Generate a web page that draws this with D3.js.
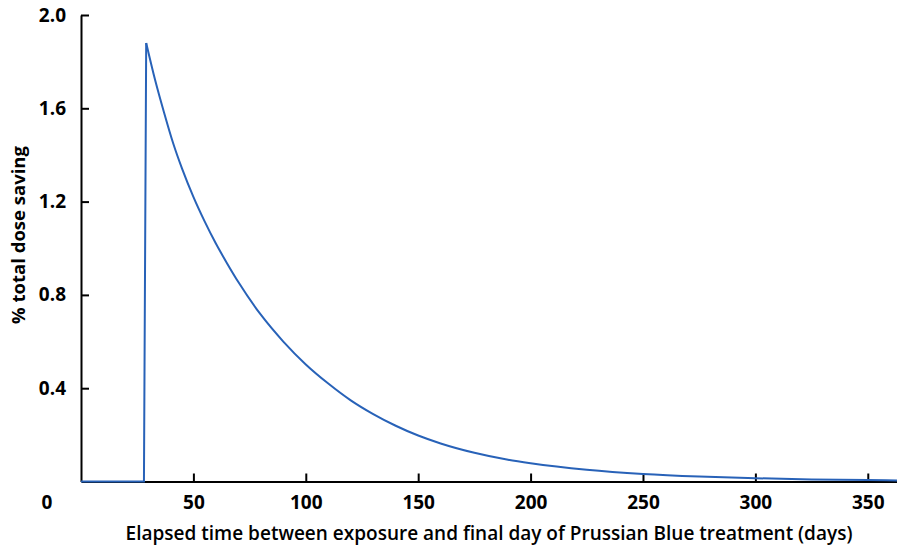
<!DOCTYPE html>
<html lang="en">
<head>
<meta charset="UTF-8">
<title>Dose saving vs elapsed time</title>
<script src="https://d3js.org/d3.v7.min.js"></script>
<style>
  body { margin: 0; background: #fff; }
  text { font-family: "Open Sans", "Noto Sans", sans-serif; fill: #000; }
</style>
</head>
<body>
<div id="chart"></div>
<script>
// days after exposure (x) and % total dose saving (y)
const days = [0, 28, 29, 33, 37, 41, 45, 50, 55, 60, 65, 70, 80, 90, 100, 110, 120, 130, 140, 150,
              160, 175, 190, 200, 225, 250, 275, 300, 325, 350, 363];
const saving = [0, 0, 1.88, 1.72, 1.58, 1.45, 1.34, 1.22, 1.115, 1.02, 0.935, 0.855, 0.715, 0.60,
                0.502, 0.42, 0.348, 0.289, 0.239, 0.197, 0.163, 0.123, 0.093, 0.078, 0.05, 0.032,
                0.021, 0.014, 0.009, 0.006, 0.0045];
const xTicks = [50, 100, 150, 200, 250, 300, 350];
const yTicks = [0.4, 0.8, 1.2, 1.6, 2.0];

const W = 897, H = 549;
const margin = {top: 15, right: 0, bottom: 67.5, left: 81};

const svg = d3.select("#chart").append("svg")
    .attr("width", W)
    .attr("height", H);

const x = d3.scaleLinear().domain([0, 363]).range([margin.left, W - margin.right]);
const y = d3.scaleLinear().domain([0, 2]).range([H - margin.bottom, margin.top]);

const pts = days.map((d, i) => [d, saving[i]]);

// x axis, ticks point inward
const xAxis = svg.append("g")
    .attr("transform", `translate(0,${y(0)})`)
    .call(d3.axisBottom(x).tickValues(xTicks).tickSize(-8).tickSizeOuter(0).tickPadding(14));

// y axis
const yAxis = svg.append("g")
    .attr("transform", `translate(${x(0)},0)`)
    .call(d3.axisLeft(y).tickValues(yTicks).tickFormat(d3.format(".1f")).tickSize(-8).tickSizeOuter(0).tickPadding(15));

[xAxis, yAxis].forEach(g => {
  g.select(".domain").attr("stroke", "#000").attr("stroke-width", 2);
  g.selectAll(".tick line").attr("stroke", "#000").attr("stroke-width", 2);
  g.selectAll(".tick text")
    .attr("fill", "#000")
    .style("font-size", "19px")
    .style("font-weight", 700);
});

// shared origin label
svg.append("text")
    .attr("x", 47)
    .attr("y", y(0) + 14)
    .attr("dy", "0.71em")
    .attr("text-anchor", "middle")
    .style("font-size", "19px")
    .style("font-weight", 700)
    .text("0");

// the rise is a straight jump, the decay is a smooth curve
svg.append("path")
    .datum(pts.slice(0, 3))
    .attr("fill", "none")
    .attr("stroke", "#2862b8")
    .attr("stroke-width", 2)
    .attr("d", d3.line().x(d => x(d[0])).y(d => y(d[1])));

svg.append("path")
    .datum(pts.slice(2))
    .attr("fill", "none")
    .attr("stroke", "#2862b8")
    .attr("stroke-width", 2)
    .attr("d", d3.line().curve(d3.curveMonotoneX).x(d => x(d[0])).y(d => y(d[1])));

// axis titles
svg.append("text")
    .attr("x", 489)
    .attr("y", 540)
    .attr("text-anchor", "middle")
    .style("font-size", "19px")
    .style("font-weight", 600)
    .text("Elapsed time between exposure and final day of Prussian Blue treatment (days)");

svg.append("text")
    .attr("transform", "translate(25,235) rotate(-90)")
    .attr("text-anchor", "middle")
    .style("font-size", "18.5px")
    .style("font-weight", 700)
    .text("% total dose saving");
</script>
</body>
</html>
